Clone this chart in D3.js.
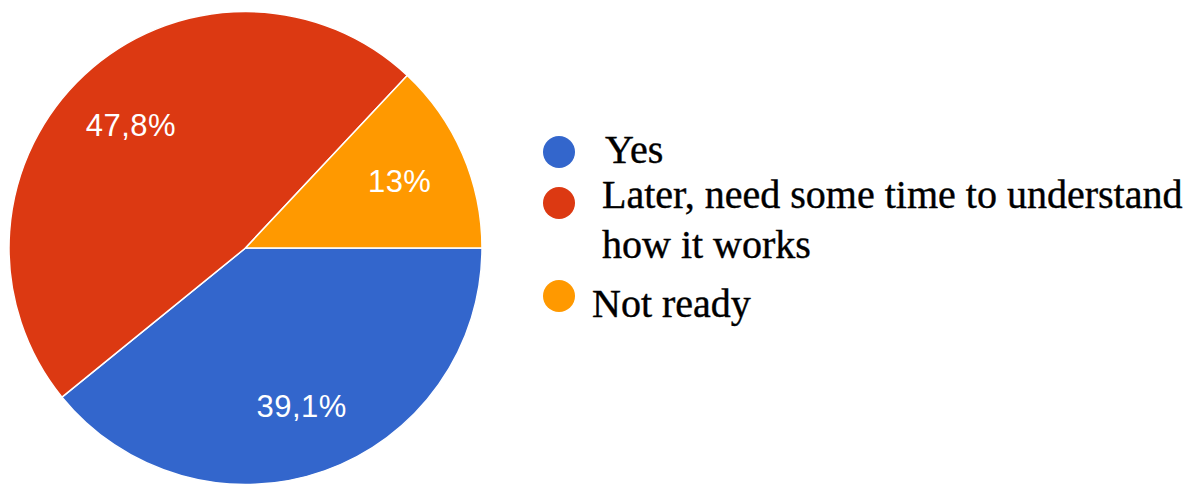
<!DOCTYPE html>
<html>
<head>
<meta charset="utf-8">
<script src="https://cdn.jsdelivr.net/npm/d3@7"></script>
<style>
  html, body { margin: 0; padding: 0; background: #fff; }
  svg { display: block; }
</style>
</head>
<body>
<svg id="chart" width="1194" height="484"></svg>
<script>
const categories = ["Yes", "Later, need some time to understand how it works", "Not ready"];
const values = [39.1, 47.8, 13.0];
const valueLabels = ["39,1%", "47,8%", "13%"];
const colors = ["#3366cc", "#dc3912", "#ff9900"];
const legendLines = [["Yes"], ["Later, need some time to understand", "how it works"], ["Not ready"]];

const svg = d3.select("#chart");
const cx = 245.5, cy = 248, R = 236.5;

const pie = d3.pie().sort(null).value(d => d)
  .startAngle(Math.PI / 2).endAngle(Math.PI / 2 + 2 * Math.PI);
const arcs = pie(values);
const arc = d3.arc().innerRadius(0).outerRadius(R);
const labelArc = d3.arc().innerRadius(168).outerRadius(168);

const g = svg.append("g").attr("transform", `translate(${cx},${cy})`);
g.selectAll("path").data(arcs).join("path")
  .attr("d", arc)
  .attr("fill", (d, i) => colors[i])
  .attr("stroke", "#ffffff")
  .attr("stroke-width", 1.5);

g.selectAll("text").data(arcs).join("text")
  .attr("transform", d => `translate(${labelArc.centroid(d)})`)
  .attr("text-anchor", "middle")
  .attr("dy", "0.36em")
  .attr("fill", "#ffffff")
  .style("font-family", "'Liberation Sans', Arial, sans-serif")
  .style("font-size", "31px")
  .style("letter-spacing", "0.5px")
  .text((d, i) => valueLabels[i]);

// Legend
const legendItems = [
  { cy: 152, textX: 605, baselines: [163] },
  { cy: 203, textX: 602, baselines: [208, 258] },
  { cy: 296, textX: 592, baselines: [317] }
];
const lg = svg.append("g");
legendItems.forEach((it, i) => {
  lg.append("circle").attr("cx", 559).attr("cy", it.cy).attr("r", 16).attr("fill", colors[i]);
  legendLines[i].forEach((line, j) => {
    lg.append("text")
      .attr("x", it.textX).attr("y", it.baselines[j])
      .attr("fill", "#000")
      .attr("stroke", "#000")
      .attr("stroke-width", 0.4)
      .style("font-family", "'Liberation Serif', 'Times New Roman', serif")
      .style("font-size", "40px")
      .text(line);
  });
});
</script>
</body>
</html>
